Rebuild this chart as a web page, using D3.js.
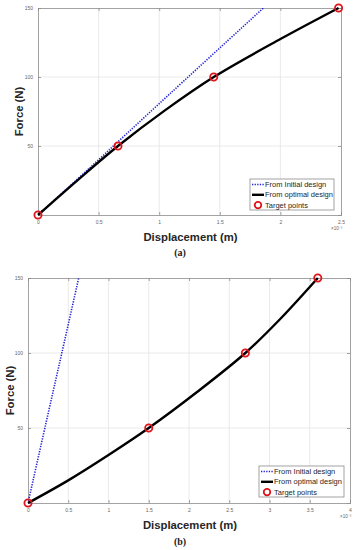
<!DOCTYPE html>
<html>
<head>
<meta charset="utf-8">
<script src="https://cdn.jsdelivr.net/npm/d3@7"></script>
<style>
body { margin: 0; background: #fff; }
svg { display: block; font-family: "Liberation Sans", Arial, sans-serif; }
</style>
</head>
<body>
<div id="chart"></div>
<script>
// displacement in units of 1e-3 m, force in N
var initialA = [[0, 0], [0.4, 32], [1.09, 88], [1.86, 150]];
var optimalA = [[0, 0], [0.33, 25.5], [0.66, 50], [1.05, 76], [1.45, 100], [2.0, 127.5], [2.48, 150]];
var targetsA = [[0, 0], [0.66, 50], [1.45, 100], [2.48, 150]];
var xTicksA = [0, 0.5, 1, 1.5, 2, 2.5];

var initialB = [[0, 0], [0.26, 62], [0.42, 100], [0.63, 150]];
var optimalB = [[0, 0], [0.5, 15.1], [1.0, 32], [1.5, 50], [2.1, 74], [2.7, 100], [3.13, 122.5], [3.6, 150]];
var targetsB = [[0, 0], [1.5, 50], [2.7, 100], [3.6, 150]];
var xTicksB = [0, 0.5, 1, 1.5, 2, 2.5, 3, 3.5, 4];

var yTicks = [50, 100, 150];
var legendLabels = ["From Initial design", "From optimal design", "Target points"];

var svg = d3.select("#chart").append("svg")
    .attr("width", 356)
    .attr("height", 550);

function drawPanel(p, idx) {
  var x = d3.scaleLinear().domain([0, p.xmax]).range([p.left, p.right]),
      y = d3.scaleLinear().domain([0, 150]).range([p.bottom, p.top]);

  var g = svg.append("g");

  g.append("clipPath").attr("id", "clip" + idx)
    .append("rect")
      .attr("x", p.left).attr("y", p.top)
      .attr("width", p.right - p.left).attr("height", p.bottom - p.top);

  // grid
  g.selectAll(".gx").data(p.xTicks.slice(1, -1)).enter().append("line")
      .attr("x1", function(d) { return x(d); }).attr("x2", function(d) { return x(d); })
      .attr("y1", p.top).attr("y2", p.bottom)
      .style("stroke", "#e4e4e4").style("stroke-width", 0.8);
  g.selectAll(".gy").data(yTicks.slice(0, -1)).enter().append("line")
      .attr("y1", function(d) { return y(d); }).attr("y2", function(d) { return y(d); })
      .attr("x1", p.left).attr("x2", p.right)
      .style("stroke", "#e4e4e4").style("stroke-width", 0.8);

  // axes (ticks inside, box on)
  var ax = [
    d3.axisBottom(x).tickValues(p.xTicks).tickSize(-3).tickPadding(5).tickFormat(d3.format("")),
    d3.axisLeft(y).tickValues(yTicks).tickSize(-3).tickPadding(5).tickFormat(d3.format(""))
  ];
  g.append("g").attr("transform", "translate(0," + p.bottom + ")").call(ax[0]);
  g.append("g").attr("transform", "translate(" + p.left + ",0)").call(ax[1]);
  g.append("g").attr("transform", "translate(0," + p.top + ")")
      .call(d3.axisTop(x).tickValues(p.xTicks).tickSize(-3).tickFormat(""));
  g.append("g").attr("transform", "translate(" + p.right + ",0)")
      .call(d3.axisRight(y).tickValues(yTicks).tickSize(-3).tickFormat(""));
  g.selectAll(".domain").style("stroke", "#8c8c8c").style("stroke-width", 0.8);
  g.selectAll(".tick line").style("stroke", "#8c8c8c").style("stroke-width", 0.8);
  g.selectAll(".tick text").style("fill", "#666").style("font-size", "5px")
      .style("font-family", "Liberation Sans, Arial, sans-serif");

  g.append("text")
      .attr("x", p.right - 10).attr("y", p.bottom + 15)
      .style("font-size", "4.5px").style("fill", "#666")
      .text("\u00d710\u207b\u00b3");

  var line = d3.line()
      .x(function(d) { return x(d[0]); })
      .y(function(d) { return y(d[1]); })
      .curve(d3.curveCatmullRom);

  g.append("path").datum(p.initial)
      .attr("d", line)
      .attr("clip-path", "url(#clip" + idx + ")")
      .style("fill", "none").style("stroke", "#2323d8")
      .style("stroke-width", 1.6).style("stroke-dasharray", "1.3,1.3");

  g.append("path").datum(p.optimal)
      .attr("d", line)
      .style("fill", "none").style("stroke", "#000")
      .style("stroke-width", 2.4);

  g.selectAll(".pt").data(p.targets).enter().append("circle")
      .attr("cx", function(d) { return x(d[0]); })
      .attr("cy", function(d) { return y(d[1]); })
      .attr("r", 3.6)
      .style("fill", "none").style("stroke", "#e0141b").style("stroke-width", 1.8);

  // axis titles
  g.append("text")
      .attr("transform", "translate(" + p.ylabX + "," + ((p.top + p.bottom) / 2) + ") rotate(-90)")
      .attr("text-anchor", "middle")
      .style("font-size", "11.3px").style("font-weight", "bold").style("fill", "#262626")
      .text("Force (N)");
  g.append("text")
      .attr("x", (p.left + p.right) / 2 + 1).attr("y", p.bottom + 26)
      .attr("text-anchor", "middle")
      .style("font-size", "11.3px").style("font-weight", "bold").style("fill", "#262626")
      .text("Displacement (m)");

  // caption
  g.append("text")
      .attr("x", 180).attr("y", p.capY)
      .attr("text-anchor", "middle")
      .style("font-family", "Liberation Serif, Times New Roman, serif")
      .style("font-size", "10px").style("font-weight", "bold").style("fill", "#222")
      .text(p.caption);

  // legend
  var lg = g.append("g").attr("transform", "translate(" + p.lgX + "," + p.lgY + ")");
  lg.append("rect").attr("width", p.lgW).attr("height", 31)
      .style("fill", "#fff").style("stroke", "#8c8c8c").style("stroke-width", 0.8);
  legendLabels.forEach(function(t, i) {
    var ry = 5.5 + i * 10.3;
    if (i === 0) {
      lg.append("line").attr("x1", 2).attr("x2", 14).attr("y1", ry).attr("y2", ry)
        .style("stroke", "#2323d8").style("stroke-width", 1.6).style("stroke-dasharray", "1.3,1.3");
    } else if (i === 1) {
      lg.append("line").attr("x1", 2).attr("x2", 14).attr("y1", ry).attr("y2", ry)
        .style("stroke", "#000").style("stroke-width", 2.4);
    } else {
      lg.append("circle").attr("cx", 8).attr("cy", ry).attr("r", 3.3)
        .style("fill", "none").style("stroke", "#e0141b").style("stroke-width", 1.8);
    }
    lg.append("text").attr("x", 15).attr("y", ry + 2.6)
      .style("font-size", "7.5px").style("fill", "#262626").text(t);
  });
}

drawPanel({ left: 38, right: 341, top: 8, bottom: 215, xmax: 2.5, xTicks: xTicksA,
  initial: initialA, optimal: optimalA, targets: targetsA, ylabX: 23, capY: 256,
  caption: "(a)", lgX: 250, lgY: 179, lgW: 84 }, 0);
drawPanel({ left: 28, right: 350, top: 278, bottom: 503, xmax: 4, xTicks: xTicksB,
  initial: initialB, optimal: optimalB, targets: targetsB, ylabX: 14, capY: 545,
  caption: "(b)", lgX: 259, lgY: 466, lgW: 85 }, 1);
</script>
</body>
</html>
